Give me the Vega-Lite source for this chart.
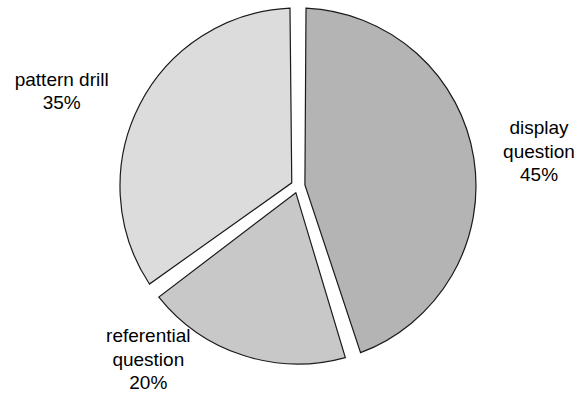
{
  "$schema": "https://vega.github.io/schema/vega-lite/v6.json",
  "width": 562,
  "height": 372,
  "autosize": "none",
  "padding": {"left": 17, "top": 0, "right": 0, "bottom": 22},
  "background": "white",
  "config": {"view": {"stroke": null}},
  "data": {
    "values": [
      {"category": "display question", "name": "display\nquestion", "value": 45},
      {"category": "referential question", "name": "referential\nquestion", "value": 20},
      {"category": "pattern drill", "name": "pattern drill", "value": 35}
    ]
  },
  "transform": [
    {"window": [{"op": "row_number", "as": "seq"}]},
    {"calculate": "datum.name + '\\n' + datum.value + '%'", "as": "label"}
  ],
  "encoding": {
    "theta": {"field": "value", "type": "quantitative", "stack": true},
    "order": {"field": "seq", "type": "quantitative"}
  },
  "layer": [
    {
      "mark": {
        "type": "arc",
        "outerRadius": 178,
        "innerRadius": 7,
        "padAngle": 0.09,
        "stroke": "#1a1a1a",
        "strokeWidth": 1.2
      },
      "encoding": {
        "color": {
          "field": "category",
          "type": "nominal",
          "scale": {
            "domain": ["display question", "referential question", "pattern drill"],
            "range": ["#b4b4b4", "#c8c8c8", "#dcdcdc"]
          },
          "legend": null
        }
      }
    },
    {
      "mark": {"type": "text", "radius": 254, "dx": -10, "dy": 9, "font": "Liberation Sans", "fontSize": 19, "lineHeight": 23.5, "lineBreak": "\n", "color": "#000", "align": "center", "baseline": "middle"},
      "encoding": {
        "text": {"condition": {"test": "datum.category === 'pattern drill'", "field": "label"}, "value": ""}
      }
    },
    {
      "mark": {"type": "text", "radius": 243, "dx": 1, "dy": -19.5, "font": "Liberation Sans", "fontSize": 19, "lineHeight": 23.5, "lineBreak": "\n", "color": "#000", "align": "center", "baseline": "middle"},
      "encoding": {
        "text": {"condition": {"test": "datum.category === 'display question'", "field": "label"}, "value": ""}
      }
    },
    {
      "mark": {"type": "text", "radius": 232, "dx": -78, "dy": -70.5, "font": "Liberation Sans", "fontSize": 19, "lineHeight": 23.5, "lineBreak": "\n", "color": "#000", "align": "center", "baseline": "middle"},
      "encoding": {
        "text": {"condition": {"test": "datum.category === 'referential question'", "field": "label"}, "value": ""}
      }
    }
  ]
}
